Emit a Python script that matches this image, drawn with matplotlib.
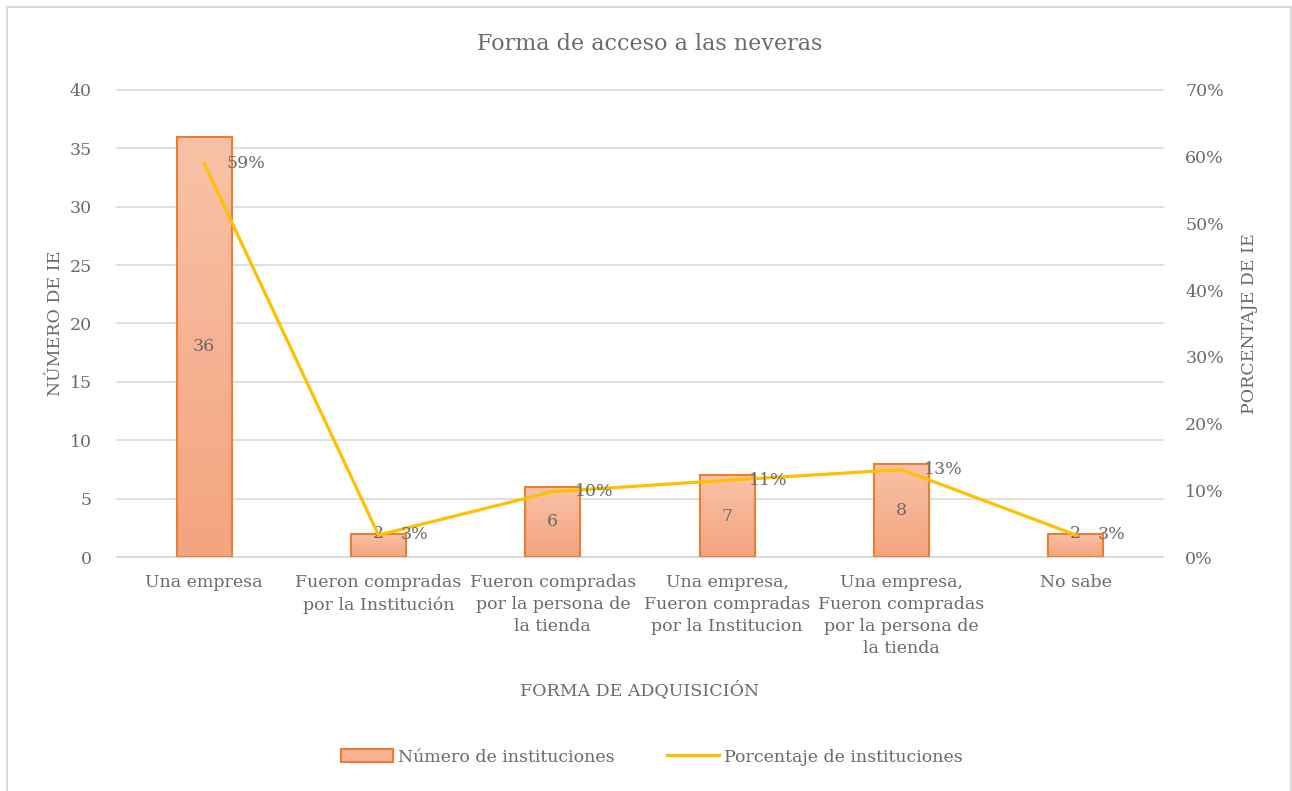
import numpy as np
import matplotlib
matplotlib.use("Agg")
import matplotlib.pyplot as plt
from matplotlib.colors import LinearSegmentedColormap
from matplotlib.patches import Rectangle
from matplotlib.lines import Line2D
from matplotlib.ticker import PercentFormatter

plt.rcParams["font.family"] = ["DejaVu Serif"]

categories = [
    "Una empresa",
    "Fueron compradas\npor la Institución",
    "Fueron compradas\npor la persona de\nla tienda",
    "Una empresa,\nFueron compradas\npor la Institucion",
    "Una empresa,\nFueron compradas\npor la persona de\nla tienda",
    "No sabe",
]
numero = [36, 2, 6, 7, 8, 2]
porcentaje = [0.59, 0.033, 0.098, 0.115, 0.131, 0.033]
pct_labels = ["59%", "3%", "10%", "11%", "13%", "3%"]

txt = "#6a6a6a"
grid = "#d9d9d9"
edge = "#ED7D31"
line_col = "#FFC000"
grad = LinearSegmentedColormap.from_list("g", ["#F4A47E", "#F8C2A8"])

fig = plt.figure(figsize=(12.92, 7.91), dpi=100)
ax = fig.add_axes([117 / 1292, 1 - 557 / 791, (1163 - 117) / 1292, (557 - 90) / 791])
ax2 = ax.twinx()

x = np.arange(len(categories))
bars = ax.bar(x, numero, width=0.315, facecolor="none", edgecolor=edge, linewidth=1.5, zorder=3)
g = np.linspace(0, 1, 256).reshape(-1, 1)
for b in bars:
    bx, by = b.get_x(), b.get_y()
    im = ax.imshow(g, cmap=grad, origin="lower", aspect="auto", zorder=2,
                   extent=[bx, bx + b.get_width(), by, by + b.get_height()])
    im.set_clip_path(b)

ax.set_xlim(-0.5, len(categories) - 0.5)
ax.set_ylim(0, 40)
ax.set_yticks(range(0, 41, 5))
ax.yaxis.grid(True, color=grid, linewidth=1.2, zorder=0)
for gl in ax.get_ygridlines():
    gl.set_clip_on(False)
ax.set_axisbelow(True)
for s in ["top", "right", "left"]:
    ax.spines[s].set_visible(False)
ax.spines["bottom"].set_color(grid)
ax.spines["bottom"].set_linewidth(1.2)
ax.set_xticks(x)
ax.set_xticklabels(categories, fontsize=12.5, color=txt, linespacing=1.4)
ax.tick_params(axis="both", length=0, colors=txt, labelsize=12.5)
ax.tick_params(axis="y", pad=18)
ax.tick_params(axis="x", pad=12)

for xi, v in zip(x, numero):
    ax.text(xi, max(v / 2, 2), str(v), ha="center", va="center", fontsize=12.5, color=txt, zorder=5)

ax2.plot(x, porcentaje, color=line_col, linewidth=2.3, zorder=4)
ax2.set_ylim(0, 0.7)
ax2.set_yticks(np.arange(0, 0.71, 0.1))
ax2.yaxis.set_major_formatter(PercentFormatter(1.0, decimals=0))
ax2.tick_params(axis="y", length=0, colors=txt, labelsize=12.5, pad=16)
for s in ax2.spines.values():
    s.set_visible(False)
for xi, p, lab in zip(x, porcentaje, pct_labels):
    ax2.annotate(lab, (xi, p), xytext=(16, 0), textcoords="offset points",
                 ha="left", va="center", fontsize=12.5, color=txt, zorder=5)

ax.set_ylabel("NÚMERO DE IE", fontsize=12.5, color=txt, labelpad=4)
ax2.set_ylabel("PORCENTAJE DE IE", fontsize=12.5, color=txt, labelpad=12)
fig.text(640 / 1292, 1 - 690 / 791, "FORMA DE ADQUISICIÓN", ha="center", va="center", fontsize=12.5, color=txt)
fig.text(650 / 1292, 1 - 44 / 791, "Forma de acceso a las neveras", ha="center", va="center", fontsize=16, color=txt)

handles = [
    Rectangle((0, 0), 1, 1, facecolor="#F6B396", edgecolor=edge, linewidth=1.5),
    Line2D([0], [0], color=line_col, linewidth=2.3),
]
fig.legend(handles, ["Número de instituciones", "Porcentaje de instituciones"],
           loc="center", bbox_to_anchor=(652 / 1292, 1 - 757 / 791), ncol=2, frameon=False,
           fontsize=12.5, labelcolor=txt, columnspacing=3, handlelength=3, handletextpad=0.3)

fig.patches.append(Rectangle((7 / 1292, -0.05), (1284) / 1292, 1.05 - 7 / 791, transform=fig.transFigure,
                             fill=False, edgecolor=grid, linewidth=1.5))

fig.savefig("out.png", dpi=100)
